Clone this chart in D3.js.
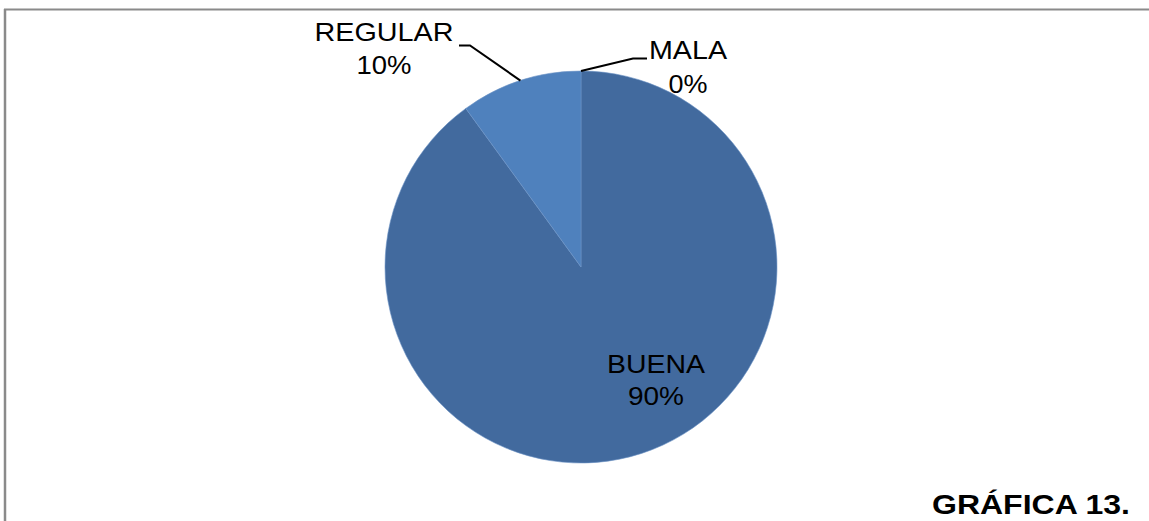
<!DOCTYPE html>
<html>
<head>
<meta charset="utf-8">
<script src="https://cdn.jsdelivr.net/npm/d3@7"></script>
<style>
html,body{margin:0;padding:0;background:#fff;}
svg{display:block;}
text{font-family:"Liberation Sans",Arial,sans-serif;fill:#000;}
</style>
</head>
<body>
<svg id="chart" width="1149" height="521"></svg>
<script>
const categories = ["MALA", "BUENA", "REGULAR"];
const values = [0, 90, 10];
const percentLabels = ["0%", "90%", "10%"];
const chartTitle = "GRÁFICA 13.";

const svg = d3.select("#chart");
const W = 1149, H = 521;

// frame
svg.append("line").attr("x1", 4).attr("y1", 9.5).attr("x2", W).attr("y2", 9.5)
  .attr("stroke", "#8a8a8a").attr("stroke-width", 2);
svg.append("line").attr("x1", 5).attr("y1", 9).attr("x2", 5).attr("y2", H)
  .attr("stroke", "#8a8a8a").attr("stroke-width", 2.5);

const cx = 581, cy = 267, r = 196;
const color = d3.scaleOrdinal().domain(categories).range(["#3F6A9E", "#426A9E", "#4F81BD"]);

const pie = d3.pie().sort(null).value(d => d.v);
const data = categories.map((c, i) => ({c, v: values[i], p: percentLabels[i]}));
const arcs = pie(data);
const arc = d3.arc().innerRadius(0).outerRadius(r);

const g = svg.append("g").attr("transform", `translate(${cx},${cy})`);
g.selectAll("path").data(arcs).enter().append("path")
  .attr("d", arc)
  .attr("fill", d => color(d.data.c))
  .attr("stroke", d => d.data.v > 0 ? "#6d93c6" : "none")
  .attr("stroke-width", 0.6);

const labelPos = {
  "BUENA":   {x: 656, y1: 373, y2: 405, w1: 98, w2: 56},
  "REGULAR": {x: 384, y1: 41,  y2: 74,  w1: 139, w2: 55},
  "MALA":    {x: 688, y1: 59,  y2: 93,  w1: 78, w2: 39}
};
const leaders = {
  "REGULAR": [[459, 45.5], [470, 45.5]],
  "MALA":    [[647, 58.5], [633, 58.5]]
};

arcs.forEach(a => {
  const lp = labelPos[a.data.c];
  if (leaders[a.data.c]) {
    const mid = (a.startAngle + a.endAngle) / 2;
    const pt = [cx + r * Math.sin(mid), cy - r * Math.cos(mid)];
    const pts = leaders[a.data.c].concat([pt]);
    svg.append("path").attr("d", d3.line()(pts))
      .attr("fill", "none").attr("stroke", "#000").attr("stroke-width", 2);
  }
  svg.append("text").attr("x", lp.x).attr("y", lp.y1).attr("text-anchor", "middle")
    .attr("font-size", 26).attr("textLength", lp.w1).attr("lengthAdjust", "spacingAndGlyphs")
    .text(a.data.c);
  svg.append("text").attr("x", lp.x).attr("y", lp.y2).attr("text-anchor", "middle")
    .attr("font-size", 26).attr("textLength", lp.w2).attr("lengthAdjust", "spacingAndGlyphs")
    .text(a.data.p);
});

svg.append("text").attr("x", 932).attr("y", 514)
  .attr("font-size", 27).attr("font-weight", "bold")
  .attr("textLength", 198).attr("lengthAdjust", "spacingAndGlyphs")
  .text(chartTitle);
</script>
</body>
</html>
